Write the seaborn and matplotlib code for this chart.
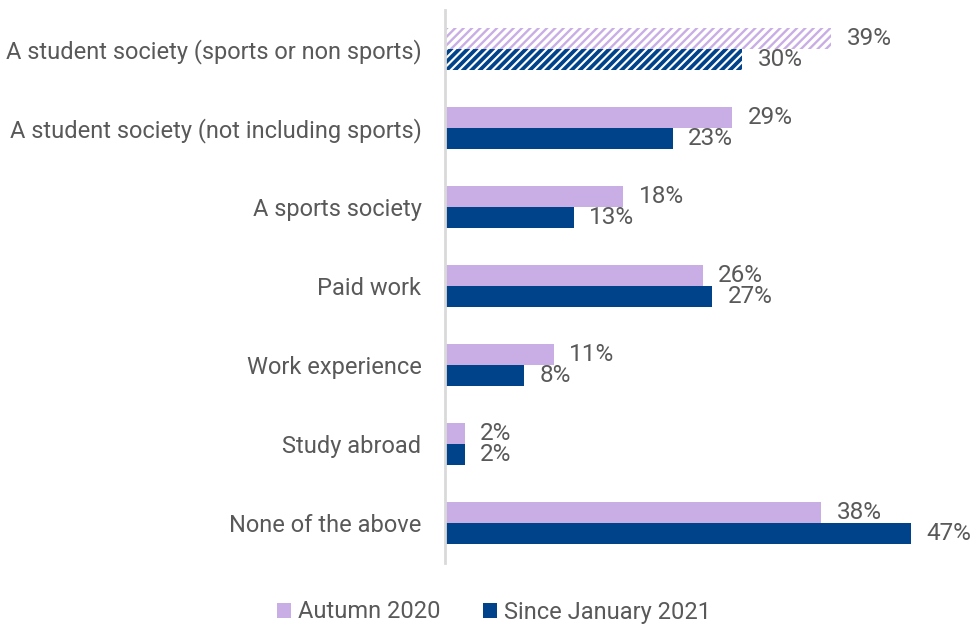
import matplotlib
matplotlib.use("Agg")
import matplotlib.pyplot as plt
import seaborn as sns
import pandas as pd
from matplotlib.patches import Patch

# Activities undertaken, by survey wave (percent of respondents)
categories = [
    "A student society (sports or non sports)",
    "A student society (not including sports)",
    "A sports society",
    "Paid work",
    "Work experience",
    "Study abroad",
    "None of the above",
]
series_names = ["Autumn 2020", "Since January 2021"]
autumn_2020 = [39, 29, 18, 26, 11, 2, 38]
since_jan_2021 = [30, 23, 13, 27, 8, 2, 47]

colors = ["#C9AEE6", "#00438A"]
text_gray = "#595959"

df = pd.DataFrame({
    "activity": categories * 2,
    "wave": [series_names[0]] * len(categories) + [series_names[1]] * len(categories),
    "pct": autumn_2020 + since_jan_2021,
})

sns.set_theme(style="white")
plt.rcParams["font.family"] = ["Roboto", "DejaVu Sans"]
plt.rcParams["hatch.linewidth"] = 2.2

fig = plt.figure(figsize=(9.8, 6.26), dpi=100)
ax = fig.add_axes([445 / 980, 1 - 562.5 / 626, 530 / 980, 553 / 626])

sns.barplot(
    data=df, y="activity", x="pct", hue="wave", order=categories,
    hue_order=series_names, palette=colors, width=0.52, gap=0,
    orient="h", ax=ax, legend=False, saturation=1, linewidth=0,
)

# Combined society row is drawn hatched
for cont, col, hlw in zip(ax.containers, colors, [1.7, 2.7]):
    bar = cont.patches[0]
    bar.set_facecolor("white")
    bar.set_edgecolor(col)
    bar.set_linewidth(0)
    bar.set_hatch("////")
    if hasattr(bar, "set_hatch_linewidth"):
        bar.set_hatch_linewidth(hlw)

# Value labels to the right of each bar
for cont in ax.containers:
    for bar in cont.patches:
        v = bar.get_width()
        y = bar.get_y() + bar.get_height() / 2
        ax.annotate(f"{v:.0f}%", (v, y), xytext=(11, 0), textcoords="offset points",
                    ha="left", va="center", fontsize=17.5, color=text_gray,
                    clip_on=False, annotation_clip=False)

ax.set_xlim(0, 53.5)
ax.set_ylim(len(categories) - 0.5, -0.5)
ax.set_xlabel("")
ax.set_ylabel("")
ax.set_xticks([])
ax.tick_params(axis="y", length=0, pad=17, labelsize=17, labelcolor=text_gray)
for side in ["top", "right", "bottom"]:
    ax.spines[side].set_visible(False)
ax.spines["left"].set_color("#D9D9D9")
ax.spines["left"].set_linewidth(2)

handles = [Patch(facecolor=c, edgecolor="none") for c in colors]
fig.legend(handles, series_names, loc="center", bbox_to_anchor=(494 / 980, 1 - 612 / 626),
           ncol=2, frameon=False, fontsize=17, labelcolor=text_gray,
           handlelength=0.6, handleheight=0.6, handletextpad=0.3, columnspacing=1.8)

fig.savefig("out.png", dpi=100)
